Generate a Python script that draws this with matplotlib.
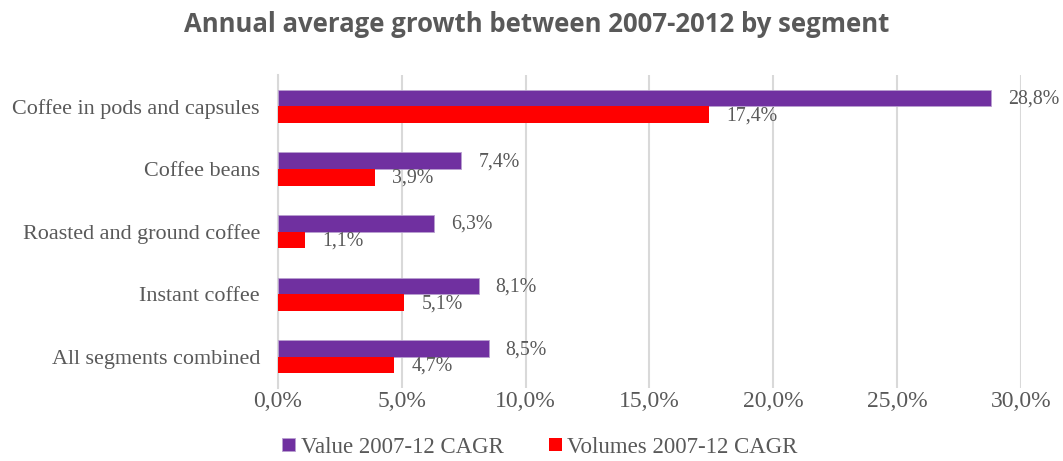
import numpy as np
import matplotlib.pyplot as plt
from matplotlib.ticker import FuncFormatter

segments = [
    "Coffee in pods and capsules",
    "Coffee beans",
    "Roasted and ground coffee",
    "Instant coffee",
    "All segments combined",
]
value_cagr = [28.8, 7.4, 6.3, 8.1, 8.5]
volume_cagr = [17.4, 3.9, 1.1, 5.1, 4.7]
series_names = ["Value 2007-12 CAGR", "Volumes 2007-12 CAGR"]

PURPLE = "#7030A0"
RED = "#FF0000"
TEXT = "#595959"
SERIF = "Liberation Serif"


def pct(v):
    return f"{v:.1f}%".replace(".", ",")


fig = plt.figure(figsize=(10.63, 4.61), dpi=100)
ax = fig.add_axes([0.2615, 0.158, 0.699, 0.679])

y = np.arange(len(segments))
h = 0.265
b1 = ax.barh(y - h / 2, value_cagr, height=h, color=PURPLE, edgecolor="#B9A0D0",
             linewidth=0.6, label=series_names[0], zorder=3)
b2 = ax.barh(y + h / 2, volume_cagr, height=h, color=RED, label=series_names[1], zorder=3)

# value labels just past the end of each bar
for bars, vals in ((b1, value_cagr), (b2, volume_cagr)):
    for rect, v in zip(bars, vals):
        ax.annotate(pct(v), (v, rect.get_y() + rect.get_height() / 2),
                    xytext=(17, -1), textcoords="offset pixels",
                    ha="left", va="center", fontsize=14.3, color=TEXT, family=SERIF)

ax.set_ylim(len(segments) - 0.5, -0.5)
ax.set_xlim(0, 30)
ax.set_xticks(np.arange(0, 31, 5))
ax.xaxis.set_major_formatter(FuncFormatter(lambda v, _: pct(v)))
ax.set_yticks(y)
ax.set_yticklabels(segments)

ax.grid(axis="x", color="#D9D9D9", linewidth=1.5, zorder=0)
for s in ("top", "right", "bottom"):
    ax.spines[s].set_visible(False)
ax.spines["left"].set_color("#D9D9D9")
ax.spines["left"].set_linewidth(1.5)

ax.tick_params(axis="both", length=0)
ax.tick_params(axis="y", pad=13, labelsize=15.9, labelcolor=TEXT)
ax.tick_params(axis="x", pad=2, labelsize=17, labelcolor=TEXT)
for lbl in ax.get_yticklabels() + ax.get_xticklabels():
    lbl.set_family(SERIF)

fig.text(0.505, 0.946, "Annual average growth between 2007-2012 by segment",
         ha="center", va="center", fontsize=18.5, fontweight="bold", color=TEXT,
         family="Open Sans")

fig.legend(handles=[b1, b2], labels=series_names, loc="center",
           bbox_to_anchor=(0.508, 0.03), ncol=2, frameon=False,
           handlelength=0.55, handleheight=0.55, handletextpad=0.25, columnspacing=2.0,
           borderpad=0.2, prop={"family": SERIF, "size": 16.5}, labelcolor=TEXT)

fig.savefig("out.png", dpi=100)
